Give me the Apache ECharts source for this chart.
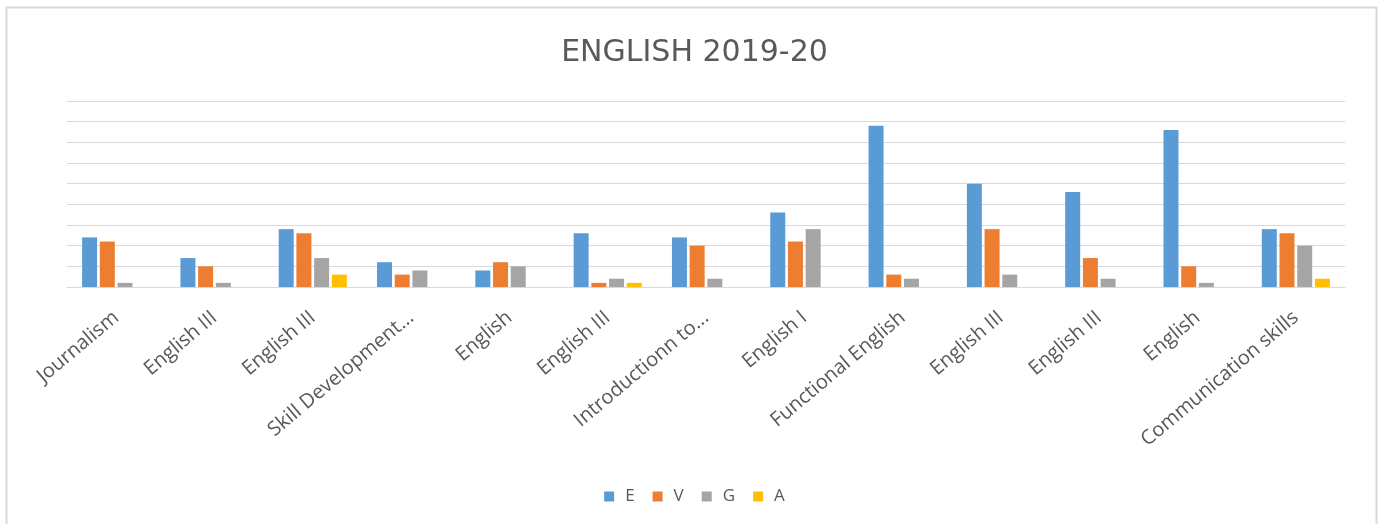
<!DOCTYPE html>
<html>
<head>
<meta charset="utf-8">
<script src="https://cdn.jsdelivr.net/npm/echarts@6/dist/echarts.min.js"></script>
<style>
html,body{margin:0;padding:0;background:#fff;}
#chart{width:1389px;height:524px;}
</style>
</head>
<body>
<div id="chart"></div>
<script>
const categories = ["Journalism","English III","English III","Skill Development...","English","English III","Introductionn to...","English I","Functional English","English III","English III","English","Communication skills"];
const seriesNames = ["E","V","G","A"];
const valuesE = [12, 7, 14, 6, 4, 13, 12, 18, 39, 25, 23, 38, 14];
const valuesV = [11, 5, 13, 3, 6, 1, 10, 11, 3, 14, 7, 5, 13];
const valuesG = [1, 1, 7, 4, 5, 2, 2, 14, 2, 3, 2, 1, 10];
const valuesA = [0, 0, 3, 0, 0, 1, 0, 0, 0, 0, 0, 0, 2];
const colors = ["#5B9BD5","#ED7D31","#A5A5A5","#FFC000"];
const titleText = "ENGLISH 2019-20";

const chart = echarts.init(document.getElementById('chart'));
const allValues = [valuesE, valuesV, valuesG, valuesA];
const font = "'Open Sans', sans-serif";
chart.setOption({
  backgroundColor: '#ffffff',
  animation: false,
  color: colors,
  title: {
    text: titleText, left: 'center', top: 33,
    textStyle: {fontFamily: "'DejaVu Sans', sans-serif", fontSize: 30, fontWeight: 'normal', color: '#595959'}
  },
  graphic: [{
    type: 'rect', silent: true,
    shape: {x: 6.5, y: 7.5, width: 1370, height: 540},
    style: {fill: 'none', stroke: '#d9d9d9', lineWidth: 2}
  }],
  legend: {
    bottom: 14, left: 'center',
    itemWidth: 10, itemHeight: 10, itemGap: 18, icon: 'rect',
    textStyle: {fontFamily: font, fontSize: 17, color: '#595959', padding: [0,0,0,6]},
    data: seriesNames
  },
  grid: {left: 67, right: 44, top: 101, bottom: 237, containLabel: false},
  xAxis: {
    type: 'category', data: categories,
    axisLine: {show: true, lineStyle: {color: '#d9d9d9', width: 1}},
    axisTick: {show: false},
    axisLabel: {interval: 0, rotate: 40, margin: 28, padding: [22, 0, 0, 0], fontFamily: font, fontSize: 20, color: '#595959'}
  },
  yAxis: {
    type: 'value', min: 0, max: 45, interval: 5,
    axisLabel: {show: false}, axisLine: {show: false}, axisTick: {show: false},
    splitLine: {lineStyle: {color: '#d9d9d9', width: 1}}
  },
  series: seriesNames.map((n, i) => ({
    name: n, type: 'bar', data: allValues[i],
    barWidth: 15, barGap: '18%',
    itemStyle: {color: colors[i]}
  }))
});
</script>
</body>
</html>
